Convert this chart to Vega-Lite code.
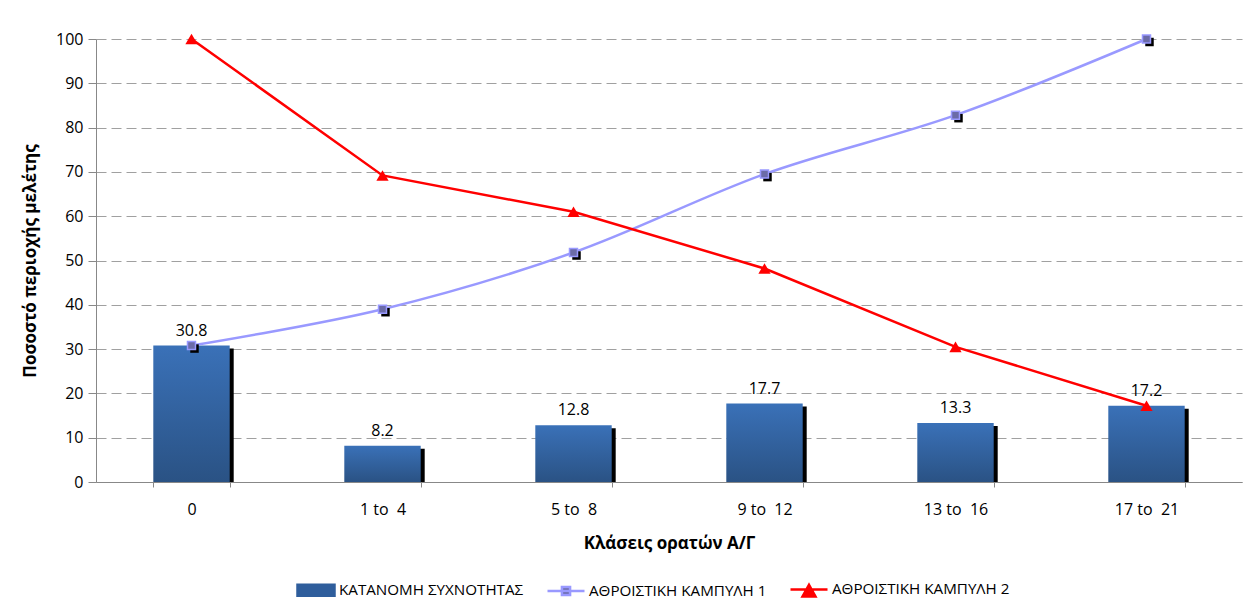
{
  "$schema": "https://vega.github.io/schema/vega-lite/v6.json",
  "autosize": {"type": "none"},
  "padding": {"left": 96, "top": 39, "right": 1, "bottom": 125},
  "width": 1146,
  "height": 443,
  "background": "white",
  "config": {
    "font": "Open Sans",
    "view": {"stroke": null}
  },
  "data": {
    "values": [
      {"cls": "0", "series": "ΚΑΤΑΝΟΜΗ ΣΥΧΝΟΤΗΤΑΣ", "pct": 30.8},
      {"cls": "1 to \u00a04", "series": "ΚΑΤΑΝΟΜΗ ΣΥΧΝΟΤΗΤΑΣ", "pct": 8.2},
      {"cls": "5 to \u00a08", "series": "ΚΑΤΑΝΟΜΗ ΣΥΧΝΟΤΗΤΑΣ", "pct": 12.8},
      {"cls": "9 to \u00a012", "series": "ΚΑΤΑΝΟΜΗ ΣΥΧΝΟΤΗΤΑΣ", "pct": 17.7},
      {"cls": "13 to \u00a016", "series": "ΚΑΤΑΝΟΜΗ ΣΥΧΝΟΤΗΤΑΣ", "pct": 13.3},
      {"cls": "17 to \u00a021", "series": "ΚΑΤΑΝΟΜΗ ΣΥΧΝΟΤΗΤΑΣ", "pct": 17.2},
      {"cls": "0", "series": "ΑΘΡΟΙΣΤΙΚΗ ΚΑΜΠΥΛΗ 1", "pct": 30.8},
      {"cls": "1 to \u00a04", "series": "ΑΘΡΟΙΣΤΙΚΗ ΚΑΜΠΥΛΗ 1", "pct": 39.0},
      {"cls": "5 to \u00a08", "series": "ΑΘΡΟΙΣΤΙΚΗ ΚΑΜΠΥΛΗ 1", "pct": 51.8},
      {"cls": "9 to \u00a012", "series": "ΑΘΡΟΙΣΤΙΚΗ ΚΑΜΠΥΛΗ 1", "pct": 69.5},
      {"cls": "13 to \u00a016", "series": "ΑΘΡΟΙΣΤΙΚΗ ΚΑΜΠΥΛΗ 1", "pct": 82.8},
      {"cls": "17 to \u00a021", "series": "ΑΘΡΟΙΣΤΙΚΗ ΚΑΜΠΥΛΗ 1", "pct": 100},
      {"cls": "0", "series": "ΑΘΡΟΙΣΤΙΚΗ ΚΑΜΠΥΛΗ 2", "pct": 100},
      {"cls": "1 to \u00a04", "series": "ΑΘΡΟΙΣΤΙΚΗ ΚΑΜΠΥΛΗ 2", "pct": 69.2},
      {"cls": "5 to \u00a08", "series": "ΑΘΡΟΙΣΤΙΚΗ ΚΑΜΠΥΛΗ 2", "pct": 61.0},
      {"cls": "9 to \u00a012", "series": "ΑΘΡΟΙΣΤΙΚΗ ΚΑΜΠΥΛΗ 2", "pct": 48.2},
      {"cls": "13 to \u00a016", "series": "ΑΘΡΟΙΣΤΙΚΗ ΚΑΜΠΥΛΗ 2", "pct": 30.5},
      {"cls": "17 to \u00a021", "series": "ΑΘΡΟΙΣΤΙΚΗ ΚΑΜΠΥΛΗ 2", "pct": 17.2}
    ]
  },
  "encoding": {
    "x": {
      "field": "cls",
      "type": "nominal",
      "sort": null,
      "scale": {"paddingInner": 0.6, "paddingOuter": 0.3},
      "axis": {
        "title": "Κλάσεις ορατών Α/Γ",
        "titleFontSize": 17,
        "titleFontWeight": "bold",
        "titleColor": "black",
        "titlePadding": 18,
        "labelAngle": 0,
        "labelFontSize": 16,
        "labelColor": "black",
        "labelPadding": 14,
        "tickBand": "extent",
        "tickSize": 5,
        "tickColor": "#888888",
        "domainColor": "#888888",
        "grid": false
      }
    },
    "y": {
      "field": "pct",
      "type": "quantitative",
      "scale": {"domain": [0, 100], "nice": false},
      "axis": {
        "title": "Ποσοστό περιοχής μελέτης",
        "titleFontSize": 17,
        "titleFontWeight": "bold",
        "titleColor": "black",
        "titlePadding": 16,
        "values": [0, 10, 20, 30, 40, 50, 60, 70, 80, 90, 100],
        "labelFontSize": 16,
        "labelColor": "black",
        "labelPadding": 5,
        "tickSize": 8,
        "tickColor": "#888888",
        "domainColor": "#888888",
        "grid": true,
        "gridColor": "#a0a0a0",
        "gridDash": [10, 5]
      }
    }
  },
  "layer": [
    {
      "transform": [{"filter": {"field": "series", "equal": "ΚΑΤΑΝΟΜΗ ΣΥΧΝΟΤΗΤΑΣ"}}],
      "mark": {"type": "bar", "color": "black", "xOffset": 4, "yOffset": 3, "clip": true}
    },
    {
      "transform": [{"filter": {"field": "series", "equal": "ΚΑΤΑΝΟΜΗ ΣΥΧΝΟΤΗΤΑΣ"}}],
      "mark": {
        "type": "bar",
        "color": {
          "gradient": "linear", "x1": 0, "y1": 0, "x2": 0, "y2": 1,
          "stops": [{"offset": 0, "color": "#3a71b8"}, {"offset": 1, "color": "#2a5284"}]
        }
      }
    },
    {
      "transform": [{"filter": {"field": "series", "equal": "ΚΑΤΑΝΟΜΗ ΣΥΧΝΟΤΗΤΑΣ"}}],
      "mark": {"type": "text", "baseline": "bottom", "dy": -7, "fontSize": 16, "color": "black"},
      "encoding": {"text": {"field": "pct", "type": "quantitative", "format": ".1f"}}
    },
    {
      "transform": [{"filter": {"field": "series", "equal": "ΑΘΡΟΙΣΤΙΚΗ ΚΑΜΠΥΛΗ 1"}}],
      "mark": {"type": "line", "interpolate": "cardinal", "tension": 0, "strokeWidth": 2.5},
      "encoding": {
        "color": {
          "field": "series",
          "type": "nominal",
          "scale": {
            "domain": ["ΚΑΤΑΝΟΜΗ ΣΥΧΝΟΤΗΤΑΣ", "ΑΘΡΟΙΣΤΙΚΗ ΚΑΜΠΥΛΗ 1", "ΑΘΡΟΙΣΤΙΚΗ ΚΑΜΠΥΛΗ 2"],
            "range": ["#2f5e9c", "#9999ff", "#ff0000"]
          },
          "legend": {
            "orient": "none",
            "legendX": 200,
            "legendY": 530,
            "direction": "horizontal",
            "title": null,
            "symbolSize": 1369,
            "labelFontSize": 15.2,
            "labelColor": "black",
            "labelLimit": 0,
            "labelOffset": 3,
            "columnPadding": 18,
            "encode": {
              "symbols": {
                "update": {
                  "shape": {"signal": "datum.value === 'ΚΑΤΑΝΟΜΗ ΣΥΧΝΟΤΗΤΑΣ' ? 'M-1,-0.3H1V0.3H-1Z' : datum.value === 'ΑΘΡΟΙΣΤΙΚΗ ΚΑΜΠΥΛΗ 1' ? 'M-1,0H1M-0.22,-0.22H0.22V0.22H-0.22Z' : 'M-1,0H1M0,-0.25L0.35,0.38H-0.35Z'"},
                  "fill": {"signal": "datum.value === 'ΚΑΤΑΝΟΜΗ ΣΥΧΝΟΤΗΤΑΣ' ? '#2f5e9c' : datum.value === 'ΑΘΡΟΙΣΤΙΚΗ ΚΑΜΠΥΛΗ 1' ? '#6b6ba8' : '#ff0000'"},
                  "stroke": {"signal": "datum.value === 'ΚΑΤΑΝΟΜΗ ΣΥΧΝΟΤΗΤΑΣ' ? 'transparent' : datum.value === 'ΑΘΡΟΙΣΤΙΚΗ ΚΑΜΠΥΛΗ 1' ? '#9999ff' : '#ff0000'"},
                  "strokeWidth": {"value": 2.5},
                  "opacity": {"value": 1}
                }
              }
            }
          }
        }
      }
    },
    {
      "transform": [{"filter": {"field": "series", "equal": "ΑΘΡΟΙΣΤΙΚΗ ΚΑΜΠΥΛΗ 2"}}],
      "mark": {"type": "line", "strokeWidth": 2.5},
      "encoding": {"color": {"field": "series", "type": "nominal"}}
    },
    {
      "transform": [{"filter": {"field": "series", "equal": "ΑΘΡΟΙΣΤΙΚΗ ΚΑΜΠΥΛΗ 1"}}],
      "mark": {"type": "square", "filled": true, "color": "black", "size": 72, "opacity": 1, "xOffset": 3, "yOffset": 3}
    },
    {
      "transform": [{"filter": {"field": "series", "equal": "ΑΘΡΟΙΣΤΙΚΗ ΚΑΜΠΥΛΗ 1"}}],
      "mark": {"type": "square", "filled": true, "fill": "#6b6ba8", "stroke": "#9999ff", "strokeWidth": 1.5, "size": 64, "opacity": 1}
    },
    {
      "transform": [{"filter": {"field": "series", "equal": "ΑΘΡΟΙΣΤΙΚΗ ΚΑΜΠΥΛΗ 2"}}],
      "mark": {"type": "point", "shape": "triangle-up", "filled": true, "fill": "#ff0000", "size": 150, "opacity": 1}
    }
  ]
}
